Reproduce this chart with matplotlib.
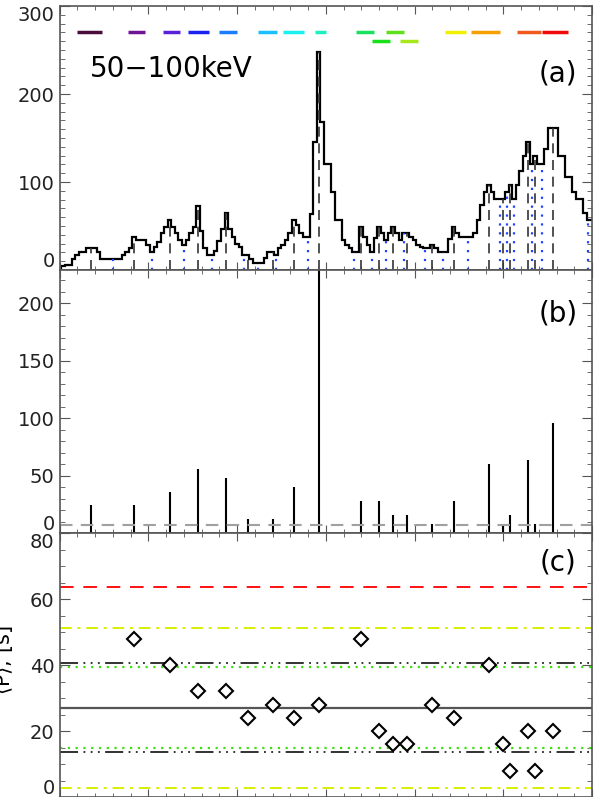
import numpy as np
import matplotlib.pyplot as plt
from matplotlib.ticker import MultipleLocator, FuncFormatter

plt.rcParams['font.family'] = ['DejaVu Sans']

# light curve, 4 s bins (bin centres in s)
t_bins = np.arange(0, 604, 4)
counts = [2, 5, 6, 6, 12, 17, 21, 21, 25, 25, 25, 21, 13, 13, 13, 13, 13, 13, 17, 21,
          25, 37, 34, 34, 34, 28, 21, 26, 32, 42, 49, 57, 49, 42, 34, 28, 34, 42, 49, 73,
          44, 25, 17, 17, 22, 33, 47, 65, 47, 37, 30, 26, 17, 17, 12, 8, 8, 8, 14, 21,
          21, 17, 25, 28, 34, 42, 57, 51, 42, 37, 37, 64, 146, 248, 168, 121, 121, 89, 57, 57,
          34, 29, 25, 21, 21, 49, 37, 28, 21, 36, 49, 42, 34, 42, 49, 42, 34, 42, 42, 38,
          34, 28, 26, 25, 25, 29, 25, 21, 21, 21, 35, 49, 42, 38, 38, 38, 38, 42, 57, 74,
          89, 97, 89, 81, 81, 81, 89, 97, 81, 97, 113, 130, 145, 121, 130, 121, 121, 137, 161, 161,
          161, 130, 130, 106, 106, 89, 81, 81, 65, 57, 57]

# peak times, amplitudes (b) and periods between successive peaks (c)
peak_t = [36, 84, 124, 156, 188, 212, 240, 264, 292, 340, 360, 376, 392, 420, 444,
          484, 500, 508, 528, 536, 556]
peak_amp = [24, 24, 36, 56, 48, 12, 12, 40, 400, 28, 28, 16, 16, 8, 28,
            60, 8, 16, 64, 8, 96]
period = [48, 40, 32, 32, 24, 28, 24, 28, 48, 20, 16, 16, 28, 24, 40, 16, 8, 20, 8, 20]

# valley times (blue dotted)
valley_t = [60, 104, 140, 172, 208, 224, 244, 280, 332, 352, 368, 388, 412, 432, 460,
            496, 504, 512, 532, 544, 596]

# coloured segments at the top of panel (a)
seg_start = [20, 77, 117, 145, 180, 224, 252, 288, 334, 352, 368, 384, 434, 464, 516, 544]
seg_end = [48, 96, 136, 168, 200, 245, 275, 300, 354, 372, 388, 404, 458, 496, 542, 573]
seg_level = [270, 270, 270, 270, 270, 270, 270, 270, 270, 260, 270, 260, 270, 270, 270, 270]
seg_colors = ['#4a0d3e', '#6e1596', '#5a22d6', '#1a22f0', '#1a7cff', '#1ac0ff', '#1af0f0',
              '#1af0c0', '#1ae060', '#1ae01a', '#60e01a', '#a8e81a', '#f0f000', '#f5a000',
              '#f05a1e', '#f00a0a']

# reference levels in panel (c)
mean_p = 27.1
sig1 = [40.5, 13.7]
green_lv = [39.5, 14.8]
yellow_lv = [51.3, 2.8]
red_lv = 63.5
noise_b = 7.2

fig = plt.figure(figsize=(5.98, 7.97), dpi=100)
L, W = 0.0995, 0.8905
ax1 = fig.add_axes([L, 0.6612, W, 0.3312])
ax2 = fig.add_axes([L, 0.3312, W, 0.3300])
ax3 = fig.add_axes([L, 0.0, W, 0.3312])

edges = np.append(t_bins - 2, t_bins[-1] + 2)
ax1.stairs(counts, edges, color='k', lw=1.6)
cnt = np.array(counts)
idx_p = np.searchsorted(t_bins, peak_t)
idx_v = np.searchsorted(t_bins, valley_t)
ax1.vlines(peak_t, 0, cnt[idx_p], colors='#333333', linestyles=(0, (6, 4)), lw=1.2)
ax1.vlines(valley_t, 0, cnt[idx_v], colors='#2244ff', linestyles=(0, (1, 3)), lw=1.6)
for s, e, lv, c in zip(seg_start, seg_end, seg_level, seg_colors):
    ax1.plot([s, e], [lv, lv], color=c, lw=2.5, solid_capstyle='butt')
ax1.set_ylim(0, 300)
ax1.yaxis.set_major_locator(MultipleLocator(100))
ax1.yaxis.set_minor_locator(MultipleLocator(10))
ax1.text(0.057, 0.76, '50\u2212100keV', transform=ax1.transAxes, fontsize=20, va='center')
ax1.text(0.936, 0.746, '(a)', transform=ax1.transAxes, fontsize=20, ha='center', va='center')

ax2.vlines(peak_t, 0, peak_amp, colors='k', lw=1.5)
ax2.axhline(noise_b, color='#a0a0a0', ls=(0, (6, 4)), lw=1.5)
ax2.set_ylim(0, 229)
ax2.yaxis.set_major_locator(MultipleLocator(50))
ax2.yaxis.set_minor_locator(MultipleLocator(10))
ax2.text(0.936, 0.835, '(b)', transform=ax2.transAxes, fontsize=20, ha='center', va='center')

ax3.axhline(red_lv, color='#ff1010', ls=(0, (7, 5)), lw=1.4)
for y in yellow_lv:
    ax3.axhline(y, color='#d8f000', ls=(0, (6, 3, 1.5, 3)), lw=1.4)
for y in sig1:
    ax3.axhline(y, color='#222222', ls=(0, (10, 3, 1, 3, 1, 3, 1, 3)), lw=1.3)
for y in green_lv:
    ax3.axhline(y, color='#40e010', ls=(0, (1, 2.5)), lw=1.6)
ax3.axhline(mean_p, color='#555555', lw=1.6)
ax3.plot(peak_t[1:], period, 'D', mfc='white', mec='k', ms=7.5, mew=1.5)
ax3.set_ylim(0, 80)
ax3.yaxis.set_major_locator(MultipleLocator(20))
ax3.yaxis.set_minor_locator(MultipleLocator(5))
ax3.text(0.936, 0.888, '(c)', transform=ax3.transAxes, fontsize=20, ha='center', va='center')
fig.text(0.006, 0.172, r'$\langle$P$\rangle$, [s]', rotation=90, fontsize=15,
         ha='center', va='center')


def edge_blank(lo, hi):
    # end labels are drawn separately, nudged inwards
    return FuncFormatter(lambda v, p: '' if abs(v - lo) < 1e-6 or abs(v - hi) < 1e-6 else f'{v:g}')


for ax in (ax1, ax2, ax3):
    ax.set_xlim(0, 600)
    ax.xaxis.set_major_locator(MultipleLocator(100))
    ax.xaxis.set_minor_locator(MultipleLocator(20))
    ax.set_xticklabels([])
    ax.tick_params(which='both', direction='in', top=True, right=True, color='#555555',
                   labelsize=14, labelcolor='#222222')
    ax.tick_params(axis='y', which='major', length=7.2)
    ax.tick_params(axis='y', which='minor', length=3.6)
    ax.tick_params(axis='x', which='major', length=5.8)
    ax.tick_params(axis='x', which='minor', length=2.9)
    for sp in ax.spines.values():
        sp.set_color('#555555')
        sp.set_linewidth(1.2)
    lo, hi = ax.get_ylim()
    ax.yaxis.set_major_formatter(edge_blank(lo, hi))
    step = ax.yaxis.get_major_locator().tick_values(lo, hi)
    for v in step:
        if abs(v - lo) < 1e-6:
            dy = 6
        elif abs(v - hi) < 1e-6:
            dy = -7
        else:
            continue
        ax.annotate(f'{v:g}', xy=(0, v), xycoords=('axes fraction', 'data'),
                    xytext=(-3.5, dy), textcoords='offset points', ha='right', va='center',
                    fontsize=14, color='#222222', annotation_clip=False)

fig.savefig('out.png', dpi=100)
